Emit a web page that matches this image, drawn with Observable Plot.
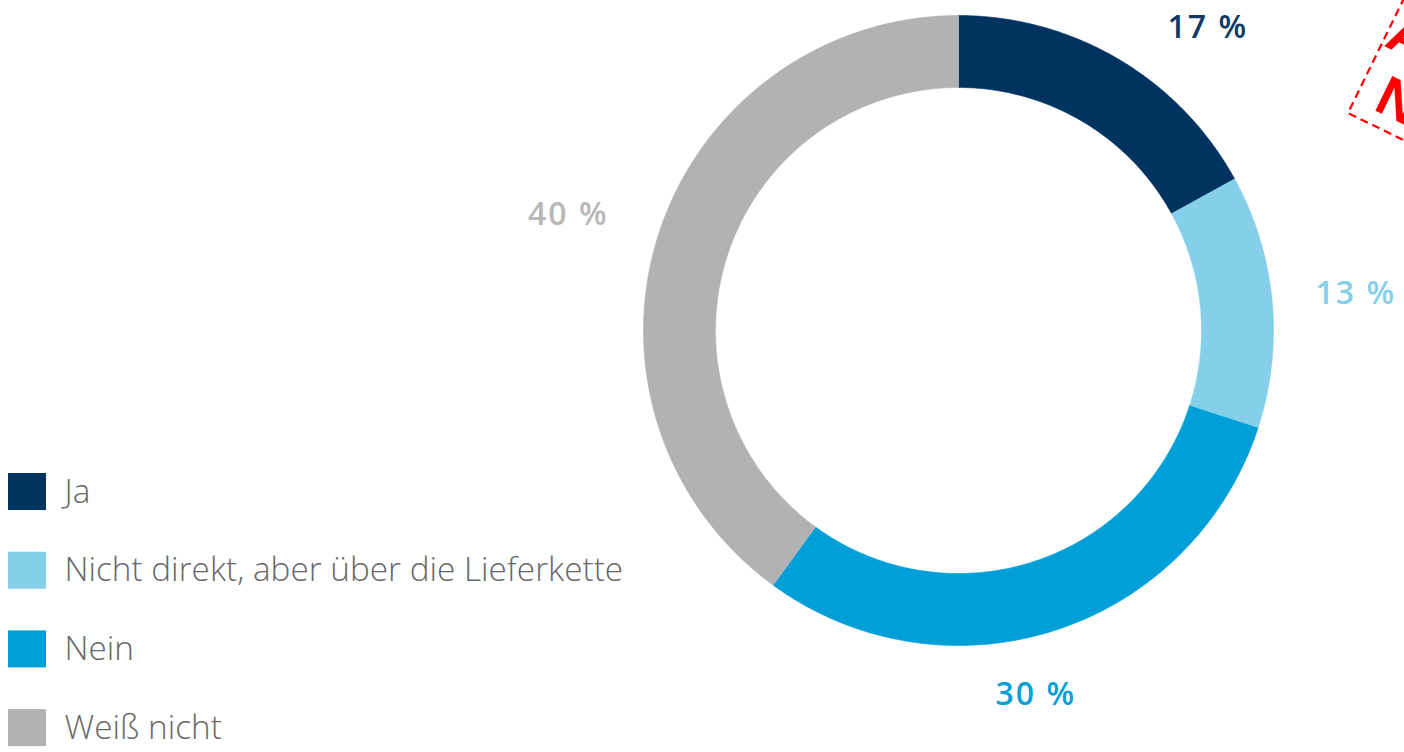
<!DOCTYPE html>
<html>
<head>
<meta charset="utf-8">
<script src="https://cdn.jsdelivr.net/npm/d3@7"></script>
<script src="https://cdn.jsdelivr.net/npm/@observablehq/plot@0.6"></script>
<style>
  html, body { margin: 0; padding: 0; background: #fff; overflow: hidden; }
  #chart svg { display: block; }
</style>
</head>
<body>
<div id="chart"></div>
<script>
// ---- data ----
const categories = ["Ja", "Nicht direkt, aber über die Lieferkette", "Nein", "Weiß nicht"];
const values = [17, 13, 30, 40];
const valueLabels = ["17 %", "13 %", "30 %", "40 %"];

// ---- styles / layout ----
const colors = ["#00335f", "#85cfea", "#009fd8", "#b2b2b2"];
const labelColors = ["#0d3a66", "#85cfea", "#0aa0d6", "#b8b8b8"];
const W = 1404, H = 752;
const cx = 958, cy = 330, R = 315, r = 243;
const labelAngle = [39.5, 84.7, 168.0, 286.5];   // degrees clockwise from top
const labelRadius = [392, 399, 372, 407];
const legendX = 8, legendY0 = 473, legendStep = 78.7, swW = 38, swH = 37;

const pie = d3.pie().sort(null).value(d => d)(values);
const deg = Math.PI / 180;

// ring polygons
const slices = pie.map((p, i) => {
  const pts = [];
  const n = Math.max(8, Math.ceil((p.endAngle - p.startAngle) / (0.5 * deg)));
  for (let k = 0; k <= n; k++) {
    const a = p.startAngle + (p.endAngle - p.startAngle) * k / n;
    pts.push({x: cx + R * Math.sin(a), y: cy - R * Math.cos(a)});
  }
  for (let k = n; k >= 0; k--) {
    const a = p.startAngle + (p.endAngle - p.startAngle) * k / n;
    pts.push({x: cx + r * Math.sin(a), y: cy - r * Math.cos(a)});
  }
  return {pts, color: colors[i]};
});

const labels = values.map((v, i) => ({
  text: valueLabels[i],
  x: cx + labelRadius[i] * Math.sin(labelAngle[i] * deg),
  y: cy - labelRadius[i] * Math.cos(labelAngle[i] * deg),
  color: labelColors[i]
}));

const legend = categories.map((c, i) => ({
  name: c,
  x1: legendX, x2: legendX + swW,
  y1: legendY0 + i * legendStep, y2: legendY0 + i * legendStep + swH,
  ty: legendY0 + i * legendStep + swH / 2,
  color: colors[i]
}));

const chart = Plot.plot({
  width: W, height: H,
  margin: 0,
  x: {type: "identity", axis: null},
  y: {type: "identity", axis: null},
  color: {type: "identity"},
  style: {background: "#fff"},
  marks: [
    ...slices.map(s => Plot.line(s.pts, {x: "x", y: "y", fill: s.color, stroke: s.color, strokeWidth: 0.6, curve: "linear"})),
    Plot.text(labels, {x: "x", y: "y", text: "text", fill: "color", fontSize: 32, fontWeight: 600,
      fontFamily: "'Open Sans', sans-serif", textAnchor: "middle", lineAnchor: "middle"}),
    Plot.rect(legend, {x1: "x1", x2: "x2", y1: "y1", y2: "y2", fill: "color"}),
    Plot.text(legend, {x: legendX + swW + 18, y: "ty", text: "name", fill: "#686868", fontSize: 33.3,
      fontFamily: "'Open Sans', sans-serif", fontWeight: 300,
      textAnchor: "start", lineAnchor: "middle"})
  ]
});

const svg = d3.select(chart);
const textGroups = svg.selectAll('g[aria-label="text"]').nodes();
// value labels: slightly wider tracking
d3.select(textGroups[0]).style("letter-spacing", "2px");

// decorative stamp fragment (top right, mostly cut off)
const g = svg.append("g").attr("transform", "translate(1348,113) rotate(26)");
g.append("rect").attr("x", 0).attr("y", -175).attr("width", 320).attr("height", 175)
  .attr("fill", "none").attr("stroke", "#ff0000").attr("stroke-width", 2.2).attr("stroke-dasharray", "8,5");
g.append("text").attr("x", 22).attr("y", -76).attr("fill", "#ff0000").attr("font-size", 56)
  .attr("font-weight", 700).attr("font-family", "'Liberation Sans', sans-serif").text("A");
g.append("text").attr("x", 40).attr("y", -14).attr("fill", "#ff0000").attr("font-size", 56)
  .attr("font-weight", 700).attr("font-family", "'Liberation Sans', sans-serif").text("N");

document.getElementById("chart").appendChild(chart);
</script>
</body>
</html>
